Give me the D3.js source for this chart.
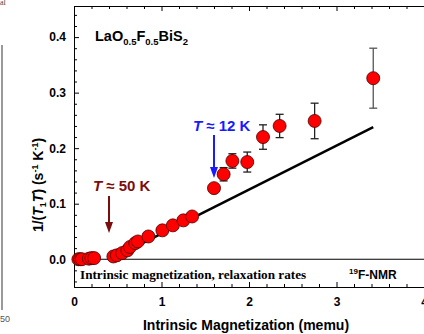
<!DOCTYPE html>
<meta charset="utf-8">
<style>
    body { margin: 0; background: #fff; }
    svg { font-family: "Liberation Sans", Arial, sans-serif; }
    .axis path { stroke: #000; }
    .axis line { stroke: #000; }
    .axis text { font-size: 12px; font-weight: bold; fill: #000; font-family: "Liberation Sans", Arial, sans-serif; }
</style>
<svg id="svg" width="424" height="334"></svg>
<script src="https://d3js.org/d3.v7.min.js"></script>
<script>

    // intrinsic magnetization (memu) and relaxation rate 1/T1T
    var mag = [0.05, 0.07, 0.09, 0.17, 0.20, 0.23,
        0.45, 0.49, 0.55, 0.61, 0.64, 0.70, 0.73, 0.85, 1.01, 1.13, 1.25, 1.35,
        1.60, 1.71, 1.81, 1.98, 2.16, 2.35, 2.75, 3.42];
    var rate = [0.0, 0.0, 0.0, 0.001, 0.002, 0.002,
        0.005, 0.007, 0.011, 0.016, 0.022, 0.029, 0.032, 0.041, 0.052, 0.061, 0.070, 0.077,
        0.128, 0.153, 0.177, 0.175, 0.220, 0.240, 0.249, 0.326];
    var rateErr = [0, 0, 0, 0, 0, 0,
        0, 0, 0, 0, 0, 0, 0, 0, 0, 0, 0, 0,
        0, 0.012, 0.013, 0.018, 0.022, 0.021, 0.032, 0.054];

    // linear fit
    var fitX = [0.42, 3.42];
    var fitY = [0.0, 0.238];

    var xMajor = [0, 1, 2, 3, 4];
    var yMajor = [0.0, 0.1, 0.2, 0.3, 0.4];

    var svg = d3.select("svg");

    var x = d3.scaleLinear().domain([0, 4]).range([74, 424]);
    var y = d3.scaleLinear().domain([-0.05, 0.456]).range([287, 6]);

    var xMinor = d3.range(0, 4.01, 0.2).filter(function (d) { return Math.abs(d - Math.round(d)) > 1e-6; });
    var yMinor = d3.range(-0.04, 0.45, 0.02).filter(function (d) { return Math.abs(d * 10 - Math.round(d * 10)) > 1e-6; });

    // axes (ticks pointing inward)
    svg.append("g").attr("class", "axis")
        .attr("transform", "translate(0," + y.range()[0] + ")")
        .call(d3.axisBottom(x).tickValues(xMajor).tickFormat(d3.format("d")).tickSizeInner(-5).tickSizeOuter(0).tickPadding(10));
    svg.append("g").attr("class", "axis")
        .attr("transform", "translate(0," + y.range()[0] + ")")
        .call(d3.axisBottom(x).tickValues(xMinor).tickFormat("").tickSizeInner(-3).tickSizeOuter(0));
    svg.append("g").attr("class", "axis")
        .attr("transform", "translate(0," + y.range()[1] + ")")
        .call(d3.axisTop(x).tickValues(xMajor).tickFormat("").tickSizeInner(-5).tickSizeOuter(0));
    svg.append("g").attr("class", "axis")
        .attr("transform", "translate(0," + y.range()[1] + ")")
        .call(d3.axisTop(x).tickValues(xMinor).tickFormat("").tickSizeInner(-3).tickSizeOuter(0));
    svg.append("g").attr("class", "axis")
        .attr("transform", "translate(" + x.range()[0] + ",0)")
        .call(d3.axisLeft(y).tickValues(yMajor).tickFormat(d3.format(".1f")).tickSizeInner(-5).tickSizeOuter(0).tickPadding(8));
    svg.append("g").attr("class", "axis")
        .attr("transform", "translate(" + x.range()[0] + ",0)")
        .call(d3.axisLeft(y).tickValues(yMinor).tickFormat("").tickSizeInner(-3).tickSizeOuter(0));

    // zero line
    svg.append("line")
        .attr("x1", x(0)).attr("x2", x(4))
        .attr("y1", y(0)).attr("y2", y(0))
        .attr("stroke", "#000").attr("stroke-width", 1.2);

    // fit line
    svg.append("line")
        .attr("x1", x(fitX[0])).attr("y1", y(fitY[0]))
        .attr("x2", x(fitX[1])).attr("y2", y(fitY[1]))
        .attr("stroke", "#000").attr("stroke-width", 2.5);

    var pts = mag.map(function (m, i) { return {x: m, y: rate[i], e: rateErr[i]}; });

    // error bars
    var eb = svg.append("g").selectAll("g")
        .data(pts.filter(function (d) { return d.e > 0; }))
        .enter().append("g")
        .attr("stroke", function (d) { return d.e > 0.05 ? "#555" : "#222"; })
        .attr("stroke-width", 1.3);
    eb.append("line")
        .attr("x1", function (d) { return x(d.x); }).attr("x2", function (d) { return x(d.x); })
        .attr("y1", function (d) { return y(d.y - d.e); }).attr("y2", function (d) { return y(d.y + d.e); });
    eb.append("line")
        .attr("x1", function (d) { return x(d.x) - 4; }).attr("x2", function (d) { return x(d.x) + 4; })
        .attr("y1", function (d) { return y(d.y + d.e); }).attr("y2", function (d) { return y(d.y + d.e); });
    eb.append("line")
        .attr("x1", function (d) { return x(d.x) - 4; }).attr("x2", function (d) { return x(d.x) + 4; })
        .attr("y1", function (d) { return y(d.y - d.e); }).attr("y2", function (d) { return y(d.y - d.e); });

    // points
    svg.append("g").selectAll("circle")
        .data(pts)
        .enter().append("circle")
        .attr("cx", function (d) { return x(d.x); })
        .attr("cy", function (d) { return y(d.y); })
        .attr("r", 6.5)
        .attr("fill", "#ff0000")
        .attr("stroke", "#4a0000")
        .attr("stroke-width", 0.8);

    // arrows
    function arrow(xv, y0, y1, col) {
        var g = svg.append("g");
        g.append("line").attr("x1", x(xv)).attr("x2", x(xv)).attr("y1", y0).attr("y2", y1 - 8)
            .attr("stroke", col).attr("stroke-width", 2);
        g.append("path")
            .attr("d", "M" + (x(xv) - 4) + "," + (y1 - 11) + "L" + (x(xv) + 4) + "," + (y1 - 11) + "L" + x(xv) + "," + y1 + "Z")
            .attr("fill", col);
    }
    arrow(0.40, 196, 233, "#7b0d0d");
    arrow(1.60, 135, 178, "#1a1aff");

    var t1 = svg.append("text").attr("x", 93).attr("y", 191).attr("fill", "#7b0d0d")
        .attr("font-size", 15).attr("font-weight", "bold");
    t1.append("tspan").attr("font-style", "italic").text("T");
    t1.append("tspan").text(" ≈ 50 K");

    var t2 = svg.append("text").attr("x", 193).attr("y", 131).attr("fill", "#1a1aff")
        .attr("font-size", 15).attr("font-weight", "bold");
    t2.append("tspan").attr("font-style", "italic").text("T");
    t2.append("tspan").text(" ≈ 12 K");

    // compound label
    var lab = svg.append("text").attr("x", 95).attr("y", 41)
        .attr("font-size", 14.5).attr("font-weight", "bold");
    lab.append("tspan").text("LaO");
    lab.append("tspan").attr("font-size", 9.5).attr("dy", 4).text("0.5");
    lab.append("tspan").attr("dy", -4).text("F");
    lab.append("tspan").attr("font-size", 9.5).attr("dy", 4).text("0.5");
    lab.append("tspan").attr("dy", -4).text("BiS");
    lab.append("tspan").attr("font-size", 9.5).attr("dy", 4).text("2");

    // bottom notes
    svg.append("text").attr("x", 80).attr("y", 279)
        .attr("font-family", "Liberation Serif, Times New Roman, serif")
        .attr("font-size", 13.2).attr("font-weight", "bold")
        .text("Intrinsic magnetization, relaxation rates");
    var nmr = svg.append("text").attr("x", 349).attr("y", 279)
        .attr("font-size", 12).attr("font-weight", "bold");
    nmr.append("tspan").attr("font-size", 8).attr("dy", -5).text("19");
    nmr.append("tspan").attr("dy", 5).text("F-NMR");

    // axis titles
    svg.append("text").attr("x", 246).attr("y", 330)
        .attr("text-anchor", "middle").attr("font-size", 14).attr("font-weight", "bold")
        .text("Intrinsic Magnetization (memu)");
    var yl = svg.append("text").attr("transform", "translate(43,185) rotate(-90)")
        .attr("text-anchor", "middle").attr("font-size", 14).attr("font-weight", "bold");
    yl.append("tspan").text("1/(");
    yl.append("tspan").attr("font-style", "italic").text("T");
    yl.append("tspan").attr("font-size", 9).attr("dy", 3).text("1");
    yl.append("tspan").attr("dy", -3).attr("font-style", "italic").text("T");
    yl.append("tspan").text(")  (s");
    yl.append("tspan").attr("font-size", 9).attr("dy", -5).text("-1");
    yl.append("tspan").attr("dy", 5).text(" K");
    yl.append("tspan").attr("font-size", 9).attr("dy", -5).text("-1");
    yl.append("tspan").attr("dy", 5).text(")");

    // bits of the neighbouring figure at the left edge
    svg.append("line").attr("x1", 2).attr("x2", 2).attr("y1", 45).attr("y2", 310)
        .attr("stroke", "#999").attr("stroke-width", 2);
    svg.append("text").attr("x", 0).attr("y", 5).attr("font-size", 8)
        .attr("font-family", "Liberation Serif, serif").attr("fill", "#444").text("al");
    svg.append("text").attr("x", 0).attr("y", 322).attr("font-size", 9)
        .attr("fill", "#555").text("50");

</script>
